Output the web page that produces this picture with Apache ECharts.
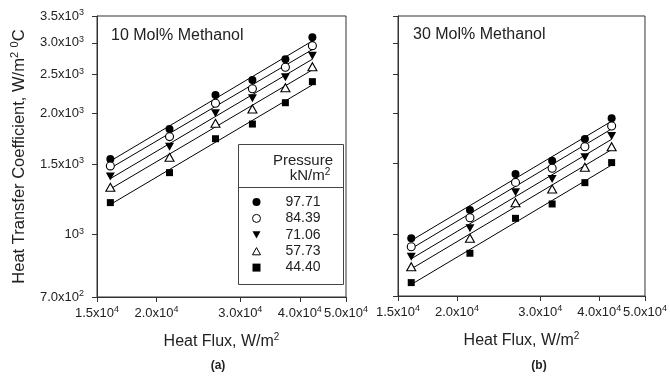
<!DOCTYPE html>
<html><head><meta charset="utf-8">
<script src="https://cdn.jsdelivr.net/npm/echarts@6/dist/echarts.min.js"></script>
<style>html,body{margin:0;padding:0;background:#fff}#c{width:670px;height:376px}</style>
</head><body><div id="c"></div><script>
// ---- data ----
const heatFlux = [16000, 21300, 26600, 31800, 37300, 42500];
const pressures = ['97.71', '84.39', '71.06', '57.73', '44.40'];
// (a) 10 Mol% Methanol
const a9771 = [1543, 1833, 2226, 2427, 2731, 3098];
const a8439 = [1483, 1754, 2123, 2308, 2610, 2953];
const a7106 = [1395, 1655, 2005, 2184, 2464, 2789];
const a5773 = [1312, 1558, 1893, 2055, 2321, 2618];
const a4440 = [1202, 1427, 1733, 1885, 2130, 2403];
// (b) 30 Mol% Methanol
const b9771 = [975, 1147, 1411, 1524, 1726, 1944];
const b8439 = [929, 1098, 1345, 1459, 1651, 1860];
const b7106 = [877, 1033, 1270, 1371, 1553, 1755];
const b5773 = [828, 975, 1197, 1295, 1467, 1651];
const b4440 = [756, 895, 1094, 1188, 1343, 1507];
// fitted lines: value at first and last heat flux
const fitStartA = [1525, 1464, 1379, 1300, 1189];
const fitEndA   = [3034, 2889, 2733, 2571, 2359];
const fitStartB = [963, 919, 867, 818, 748];
const fitEndB   = [1912, 1829, 1723, 1624, 1486];
// ticks
const xTickValues = [15000, 20000, 30000, 40000, 50000];
const xTickMant = ['1.5', '2.0', '3.0', '4.0', '5.0'];
const xTickExp = ['4', '4', '4', '4', '4'];
const yTickValues = [700, 1000, 1500, 2000, 2500, 3000, 3500];
const yTickMant = ['7.0', '', '1.5', '2.0', '2.5', '3.0', '3.5'];
const yTickExp = ['2', '3', '3', '3', '3', '3', '3'];

const FONT = 'Liberation Sans, Arial, sans-serif';
const AX = '#333';

function labelFor(vals, mant, exp) {
  return function (v) {
    let best = 0, bd = Infinity;
    vals.forEach((t, i) => { const d = Math.abs(Math.log(t) - Math.log(v)); if (d < bd) { bd = d; best = i; } });
    const m = mant[best];
    return '{b|' + (m ? m + 'x10' : '10') + '}{s|' + exp[best] + '}';
  };
}
const rich = {
  b: { fontSize: 13, fontFamily: FONT, color: '#222' },
  s: { fontSize: 9, fontFamily: FONT, color: '#222', padding: [0, 0, 7, 0] }
};

const symbols = [
  { symbol: 'circle', size: 8, fill: '#000' },
  { symbol: 'circle', size: 8, fill: '#fff' },
  { symbol: 'path://M0,0L10,0L5,9Z', size: [9, 8], fill: '#000' },
  { symbol: 'path://M5,0L10,9L0,9Z', size: [9, 8], fill: '#fff' },
  { symbol: 'path://M0,0L10,0L10,10L0,10Z', size: 7, fill: '#000' }
];

function xAxisCfg(gi) {
  return {
    type: 'log', logBase: 10, gridIndex: gi, min: 15000, max: 50000,
    name: 'Heat Flux, W/m{s|2}', nameLocation: 'middle', nameGap: 35,
    nameTextStyle: { fontSize: 16, fontFamily: FONT, color: '#222',
      rich: { s: { fontSize: 10, fontFamily: FONT, color: '#222', padding: [0, 0, 9, 0] } } },
    axisLine: { show: true, lineStyle: { color: AX, width: 1 } },
    axisTick: { show: true, inside: false, length: 5, customValues: xTickValues, lineStyle: { color: AX } },
    axisLabel: { show: true, customValues: xTickValues, formatter: labelFor(xTickValues, xTickMant, xTickExp), rich: rich, margin: 8 },
    splitLine: { show: false }, minorTick: { show: false }
  };
}
function yAxisCfg(gi, showLabel) {
  const c = {
    type: 'log', logBase: 10, gridIndex: gi, min: 700, max: 3500,
    axisLine: { show: true, lineStyle: { color: AX, width: 1 } },
    axisTick: { show: true, inside: false, length: 5, customValues: yTickValues, lineStyle: { color: AX } },
    axisLabel: { show: showLabel, customValues: yTickValues, formatter: labelFor(yTickValues, yTickMant, yTickExp), rich: rich, margin: 13 },
    splitLine: { show: false }, minorTick: { show: false }
  };
  if (showLabel) {
    c.name = 'Heat Transfer Coefficient, W/m{s|2} {s|0}C';
    c.nameLocation = 'middle';
    c.nameGap = 68;
    c.nameTextStyle = { fontSize: 16.5, fontFamily: FONT, color: '#222',
      rich: { s: { fontSize: 11, fontFamily: FONT, color: '#222', padding: [0, 0, 9, 0] } } };
  }
  return c;
}

const setA = [a9771, a8439, a7106, a5773, a4440];
const setB = [b9771, b8439, b7106, b5773, b4440];
const series = [];
[[setA, fitStartA, fitEndA, 0], [setB, fitStartB, fitEndB, 1]].forEach(([set, fs, fe, gi]) => {
  set.forEach((vals, i) => {
    series.push({
      type: 'line', name: 'fit' + gi + '_' + i, xAxisIndex: gi, yAxisIndex: gi,
      data: [[heatFlux[0], fs[i]], [heatFlux[heatFlux.length - 1], fe[i]]],
      showSymbol: false, symbol: 'none', silent: true, z: 2,
      lineStyle: { color: '#000', width: 1 }
    });
  });
  set.forEach((vals, i) => {
    const s = symbols[i];
    series.push({
      type: 'scatter', name: pressures[i], xAxisIndex: gi, yAxisIndex: gi,
      data: vals.map((v, k) => [heatFlux[k], v]),
      symbol: s.symbol, symbolSize: s.size, symbolKeepAspect: false, z: 5,
      itemStyle: { color: s.fill, borderColor: '#000', borderWidth: s.fill === '#fff' ? 1.1 : 0, opacity: 1 }
    });
  });
});

const chart = echarts.init(document.getElementById('c'), null, { renderer: 'canvas' });
chart.setOption({
  animation: false,
  backgroundColor: '#fff',
  textStyle: { fontFamily: FONT },
  grid: [
    { left: 97, top: 16, width: 249, height: 281, show: true, borderColor: AX, borderWidth: 1, backgroundColor: 'transparent' },
    { left: 398, top: 16, width: 248, height: 280, show: true, borderColor: AX, borderWidth: 1, backgroundColor: 'transparent' }
  ],
  xAxis: [xAxisCfg(0), xAxisCfg(1)],
  yAxis: [yAxisCfg(0, true), yAxisCfg(1, false)],
  legend: {
    data: pressures.map((p, i) => ({
      name: p, icon: symbols[i].symbol,
      itemStyle: { color: symbols[i].fill, borderColor: '#000', borderWidth: symbols[i].fill === '#fff' ? 1 : 0 }
    })),
    orient: 'vertical', left: 252, top: 194, padding: 0, z: 30,
    itemWidth: 8, itemHeight: 8, itemGap: 0.4, selectedMode: false,
    textStyle: { fontSize: 14, fontFamily: FONT, color: '#222', lineHeight: 16, padding: [0, 0, 0, 20] }
  },
  graphic: [
    { type: 'rect', shape: { x: 238.5, y: 144.5, width: 105, height: 140 }, style: { fill: '#fff', stroke: '#444', lineWidth: 1 }, z: 10 },
    { type: 'line', shape: { x1: 238.5, y1: 187.5, x2: 343.5, y2: 187.5 }, style: { stroke: '#444', lineWidth: 1 }, z: 11 },
    { type: 'text', x: 333, y: 161, z: 11, style: { text: 'Pressure', font: '15px ' + FONT, fill: '#222', align: 'right', verticalAlign: 'middle' } },
    { type: 'text', x: 310, y: 176, z: 11, style: { text: '{b|kN/m}{s|2}', align: 'center', verticalAlign: 'middle',
      rich: { b: { fontSize: 15, fontFamily: FONT, fill: '#222' }, s: { fontSize: 10, fontFamily: FONT, fill: '#222', padding: [0, 0, 8, 0] } } } },
    { type: 'text', x: 111, y: 36, z: 11, style: { text: '10 Mol% Methanol', font: '16px ' + FONT, fill: '#222', verticalAlign: 'middle' } },
    { type: 'text', x: 413, y: 35, z: 11, style: { text: '30 Mol% Methanol', font: '16px ' + FONT, fill: '#222', verticalAlign: 'middle' } },
    { type: 'text', x: 218, y: 366, z: 11, style: { text: '(a)', font: 'bold 12px ' + FONT, fill: '#222', align: 'center', verticalAlign: 'middle' } },
    { type: 'text', x: 539, y: 366, z: 11, style: { text: '(b)', font: 'bold 12px ' + FONT, fill: '#222', align: 'center', verticalAlign: 'middle' } }
  ],
  series: series
});
</script></body></html>
